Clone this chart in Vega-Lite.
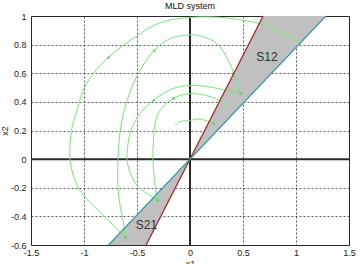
{
  "$schema": "https://vega.github.io/schema/vega-lite/v6.json",
  "width": 318,
  "height": 229,
  "autosize": {"type": "none"},
  "padding": {"left": 31, "top": 16, "right": 11, "bottom": 19},
  "background": "white",
  "title": {"text": "MLD system", "fontSize": 9, "font": "Liberation Sans", "fontWeight": "normal", "color": "#111", "offset": 1, "anchor": "middle"},
  "config": {
    "view": {"stroke": "#222", "strokeWidth": 1},
    "axis": {"labelFont": "Liberation Sans", "labelFontSize": 9, "labelColor": "#222", "titleFont": "Liberation Sans", "titleFontSize": 9, "titleFontWeight": "normal", "titleColor": "#222", "grid": true, "gridColor": "#333", "gridDash": [2, 2], "gridWidth": 0.8, "ticks": false, "domain": false}
  },
  "datasets": {
    "region": [
      {"y": -0.6, "x": -0.769, "xb": -0.414},
      {"y": 0, "x": 0, "xb": 0},
      {"y": 1, "x": 1.282, "xb": 0.69}
    ],
    "zero": [
      {"name": "h", "i": 0, "x": -1.5, "y": 0},
      {"name": "h", "i": 1, "x": 1.5, "y": 0},
      {"name": "v", "i": 0, "x": 0, "y": -0.6},
      {"name": "v", "i": 1, "x": 0, "y": 1}
    ],
    "bounds": [
      {"name": "red", "i": 0, "x": -0.414, "y": -0.6},
      {"name": "red", "i": 1, "x": 0.69, "y": 1},
      {"name": "cyan", "i": 0, "x": -0.769, "y": -0.6},
      {"name": "cyan", "i": 1, "x": 1.282, "y": 1}
    ],
    "curves": [
      {"c": 1, "i": 0, "x": 1.066, "y": 0.785},
      {"c": 1, "i": 1, "x": 1.009, "y": 0.827},
      {"c": 1, "i": 2, "x": 0.849, "y": 0.89},
      {"c": 1, "i": 3, "x": 0.66, "y": 0.946},
      {"c": 1, "i": 4, "x": 0.33, "y": 0.988},
      {"c": 1, "i": 5, "x": 0.0, "y": 0.99},
      {"c": 1, "i": 6, "x": -0.283, "y": 0.953},
      {"c": 1, "i": 7, "x": -0.5, "y": 0.862},
      {"c": 1, "i": 8, "x": -0.774, "y": 0.709},
      {"c": 1, "i": 9, "x": -0.915, "y": 0.597},
      {"c": 1, "i": 10, "x": -1.009, "y": 0.479},
      {"c": 1, "i": 11, "x": -1.066, "y": 0.339},
      {"c": 1, "i": 12, "x": -1.113, "y": 0.22},
      {"c": 1, "i": 13, "x": -1.132, "y": 0.0},
      {"c": 1, "i": 14, "x": -1.066, "y": -0.183},
      {"c": 1, "i": 15, "x": -0.972, "y": -0.281},
      {"c": 1, "i": 16, "x": -0.849, "y": -0.371},
      {"c": 1, "i": 17, "x": -0.726, "y": -0.462},
      {"c": 1, "i": 18, "x": -0.613, "y": -0.546},
      {"c": 2, "i": 0, "x": 0.472, "y": 0.458},
      {"c": 2, "i": 1, "x": 0.443, "y": 0.528},
      {"c": 2, "i": 2, "x": 0.377, "y": 0.667},
      {"c": 2, "i": 3, "x": 0.255, "y": 0.806},
      {"c": 2, "i": 4, "x": 0.1, "y": 0.86},
      {"c": 2, "i": 5, "x": 0.0, "y": 0.869},
      {"c": 2, "i": 6, "x": -0.189, "y": 0.841},
      {"c": 2, "i": 7, "x": -0.34, "y": 0.758},
      {"c": 2, "i": 8, "x": -0.5, "y": 0.583},
      {"c": 2, "i": 9, "x": -0.594, "y": 0.409},
      {"c": 2, "i": 10, "x": -0.651, "y": 0.235},
      {"c": 2, "i": 11, "x": -0.679, "y": 0.0},
      {"c": 2, "i": 12, "x": -0.679, "y": -0.197},
      {"c": 2, "i": 13, "x": -0.66, "y": -0.323},
      {"c": 2, "i": 14, "x": -0.632, "y": -0.427},
      {"c": 2, "i": 15, "x": -0.613, "y": -0.546},
      {"c": 3, "i": 0, "x": 0.472, "y": 0.458},
      {"c": 3, "i": 1, "x": 0.349, "y": 0.479},
      {"c": 3, "i": 2, "x": 0.16, "y": 0.507},
      {"c": 3, "i": 3, "x": 0.0, "y": 0.514},
      {"c": 3, "i": 4, "x": -0.16, "y": 0.493},
      {"c": 3, "i": 5, "x": -0.349, "y": 0.409},
      {"c": 3, "i": 6, "x": -0.472, "y": 0.318},
      {"c": 3, "i": 7, "x": -0.538, "y": 0.235},
      {"c": 3, "i": 8, "x": -0.566, "y": 0.179},
      {"c": 3, "i": 9, "x": -0.594, "y": 0.0},
      {"c": 3, "i": 10, "x": -0.547, "y": -0.128},
      {"c": 3, "i": 11, "x": -0.472, "y": -0.205},
      {"c": 3, "i": 12, "x": -0.406, "y": -0.24},
      {"c": 3, "i": 13, "x": -0.311, "y": -0.288},
      {"c": 4, "i": 0, "x": 0.377, "y": 0.36},
      {"c": 4, "i": 1, "x": 0.217, "y": 0.43},
      {"c": 4, "i": 2, "x": 0.0, "y": 0.458},
      {"c": 4, "i": 3, "x": -0.16, "y": 0.423},
      {"c": 4, "i": 4, "x": -0.283, "y": 0.339},
      {"c": 4, "i": 5, "x": -0.33, "y": 0.249},
      {"c": 4, "i": 6, "x": -0.345, "y": 0.13},
      {"c": 4, "i": 7, "x": -0.35, "y": 0.0},
      {"c": 4, "i": 8, "x": -0.335, "y": -0.148},
      {"c": 4, "i": 9, "x": -0.311, "y": -0.288},
      {"c": 5, "i": 0, "x": -0.142, "y": 0.235},
      {"c": 5, "i": 1, "x": -0.094, "y": 0.262},
      {"c": 5, "i": 2, "x": 0.0, "y": 0.27},
      {"c": 5, "i": 3, "x": 0.094, "y": 0.28},
      {"c": 5, "i": 4, "x": 0.217, "y": 0.249}
    ],
    "arrows": [
      {"x": -0.774, "y": 0.709},
      {"x": -0.34, "y": 0.758},
      {"x": -0.349, "y": 0.409},
      {"x": -0.16, "y": 0.423},
      {"x": -0.613, "y": -0.546},
      {"x": -0.311, "y": -0.288},
      {"x": 0.472, "y": 0.458},
      {"x": 0.217, "y": 0.249}
    ],
    "labels": [
      {"x": 0.726, "y": 0.712, "label": "S12"},
      {"x": -0.41, "y": -0.458, "label": "S21"}
    ]
  },
  "encoding": {
    "x": {"field": "x", "type": "quantitative", "title": "x1",
      "scale": {"domain": [-1.5, 1.5], "nice": false, "zero": false},
      "axis": {"values": [-1.5, -1, -0.5, 0, 0.5, 1, 1.5], "labelExpr": "'' + datum.value", "labelPadding": 3, "titlePadding": 2, "labelFlush": false}},
    "y": {"field": "y", "type": "quantitative", "title": "x2",
      "scale": {"domain": [-0.6, 1], "nice": false, "zero": false},
      "axis": {"values": [-0.6, -0.4, -0.2, 0, 0.2, 0.4, 0.6, 0.8, 1], "labelExpr": "'' + datum.value", "labelPadding": 5, "titlePadding": 1, "labelFlush": false}}
  },
  "layer": [
    {
      "data": {"name": "region"},
      "mark": {"type": "area", "orient": "horizontal", "color": "#c0c0c0", "opacity": 1},
      "encoding": {"x2": {"field": "xb"}}
    },
    {
      "data": {"name": "zero"},
      "mark": {"type": "line", "color": "#2a2a2a", "strokeWidth": 2},
      "encoding": {"detail": {"field": "name"}, "order": {"field": "i"}}
    },
    {
      "data": {"name": "curves"},
      "mark": {"type": "line", "color": "#72ea72", "strokeWidth": 1, "interpolate": "catmull-rom"},
      "encoding": {"detail": {"field": "c"}, "order": {"field": "i"}}
    },
    {
      "data": {"name": "arrows"},
      "mark": {"type": "point", "shape": "triangle-left", "filled": true, "size": 12, "color": "#4ad84a", "opacity": 1}
    },
    {
      "data": {"name": "bounds"},
      "mark": {"type": "line", "strokeWidth": 1.3},
      "encoding": {
        "color": {"field": "name", "type": "nominal", "legend": null, "scale": {"domain": ["red", "cyan"], "range": ["#a82525", "#3a9eaa"]}},
        "order": {"field": "i"}
      }
    },
    {
      "data": {"name": "labels"},
      "mark": {"type": "text", "font": "Liberation Sans", "fontSize": 12, "color": "#333"},
      "encoding": {"text": {"field": "label"}}
    }
  ]
}
